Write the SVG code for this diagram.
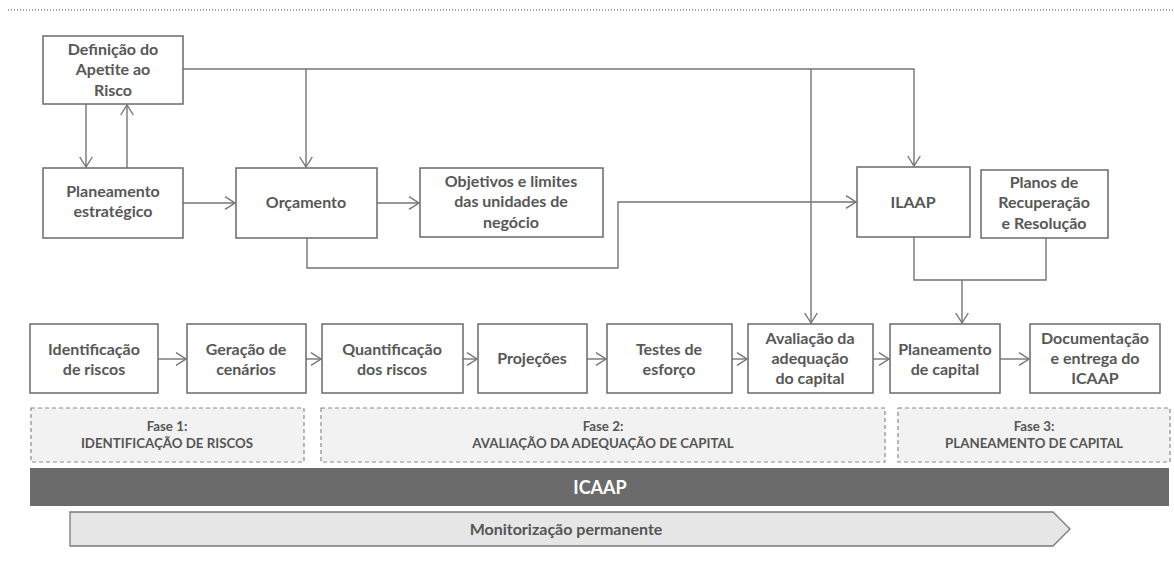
<svg xmlns="http://www.w3.org/2000/svg" width="1174" height="573" viewBox="0 0 1174 573">
<style>
.bx{fill:#ffffff;stroke:#6a6a6a;stroke-width:1.5}
.ph{fill:#f2f2f2;stroke:#8a8a8a;stroke-width:1.2;stroke-dasharray:4 3}
.t{font-family:Lato,"Liberation Sans",sans-serif;font-weight:700;font-size:16px;fill:#575757;text-anchor:middle}
.p{font-family:Lato,"Liberation Sans",sans-serif;font-weight:700;font-size:13.3px;fill:#555555;text-anchor:middle}
.c{fill:none;stroke:#747474;stroke-width:1.4}
</style>
<defs>
<marker id="ah" markerUnits="userSpaceOnUse" markerWidth="13" markerHeight="14" viewBox="0 0 11 14" refX="10" refY="7" orient="auto">
<path d="M0,0.7 L10,7 L0,13.3" fill="none" stroke="#747474" stroke-width="1.4"/>
</marker>
</defs>
<rect width="1174" height="573" fill="#ffffff"/>
<line x1="8" y1="10" x2="1174" y2="10" stroke="#8a8a8a" stroke-width="1.5" stroke-dasharray="1 2"/>

<g id="connectors">
<path class="c" d="M86,104 V167" marker-end="url(#ah)"/>
<path class="c" d="M127,168 V105" marker-end="url(#ah)"/>
<path class="c" d="M164,203 H235" marker-end="url(#ah)"/>
<path class="c" d="M183,69 H914 V166" marker-end="url(#ah)"/>
<path class="c" d="M306,69 V167" marker-end="url(#ah)"/>
<path class="c" d="M811,69 V323" marker-end="url(#ah)"/>
<path class="c" d="M377,203 H419" marker-end="url(#ah)"/>
<path class="c" d="M307,238 V268 H618 V202 H856" marker-end="url(#ah)"/>
<path class="c" d="M914,237 V280 H1046 V238"/>
<path class="c" d="M962,280 V323" marker-end="url(#ah)"/>
<path class="c" d="M158,359 H186" marker-end="url(#ah)"/>
<path class="c" d="M306,359 H321" marker-end="url(#ah)"/>
<path class="c" d="M463,359 H477" marker-end="url(#ah)"/>
<path class="c" d="M587,359 H606" marker-end="url(#ah)"/>
<path class="c" d="M732,359 H747" marker-end="url(#ah)"/>
<path class="c" d="M873,359 H889" marker-end="url(#ah)"/>
<path class="c" d="M1000,359 H1029" marker-end="url(#ah)"/>
</g>

<g id="definicao"><rect class="bx" x="43" y="36" width="140" height="68"/>
<text class="t" x="113" y="55">Definição do</text><text class="t" x="113" y="75">Apetite ao</text><text class="t" x="113" y="96">Risco</text></g>
<g id="planeamento-estrategico"><rect class="bx" x="43" y="168" width="140" height="70"/>
<text class="t" x="113" y="197">Planeamento</text><text class="t" x="113" y="217">estratégico</text></g>
<g id="orcamento"><rect class="bx" x="236" y="168" width="141" height="70"/>
<text class="t" x="306" y="208">Orçamento</text></g>
<g id="objetivos"><rect class="bx" x="420" y="168" width="183" height="69"/>
<text class="t" x="511" y="187">Objetivos e limites</text><text class="t" x="511" y="207">das unidades de</text><text class="t" x="511" y="228">negócio</text></g>
<g id="ilaap"><rect class="bx" x="857" y="167" width="113" height="70"/>
<text class="t" x="913" y="208">ILAAP</text></g>
<g id="planos"><rect class="bx" x="981" y="170" width="127" height="68"/>
<text class="t" x="1044" y="188">Planos de</text><text class="t" x="1044" y="208">Recuperação</text><text class="t" x="1044" y="229">e Resolução</text></g>

<g id="identificacao"><rect class="bx" x="30" y="324" width="128" height="69"/>
<text class="t" x="94" y="355">Identificação</text><text class="t" x="94" y="375">de riscos</text></g>
<g id="geracao"><rect class="bx" x="187" y="324" width="119" height="69"/>
<text class="t" x="246" y="355">Geração de</text><text class="t" x="246" y="375">cenários</text></g>
<g id="quantificacao"><rect class="bx" x="322" y="324" width="141" height="69"/>
<text class="t" x="392" y="355">Quantificação</text><text class="t" x="392" y="375">dos riscos</text></g>
<g id="projecoes"><rect class="bx" x="478" y="324" width="109" height="69"/>
<text class="t" x="532" y="364">Projeções</text></g>
<g id="testes"><rect class="bx" x="607" y="324" width="125" height="69"/>
<text class="t" x="669" y="355">Testes de</text><text class="t" x="669" y="375">esforço</text></g>
<g id="avaliacao"><rect class="bx" x="748" y="324" width="125" height="69"/>
<text class="t" x="810" y="344">Avaliação da</text><text class="t" x="810" y="364">adequação</text><text class="t" x="810" y="384">do capital</text></g>
<g id="planeamento-capital"><rect class="bx" x="890" y="324" width="110" height="69"/>
<text class="t" x="945" y="355">Planeamento</text><text class="t" x="945" y="375">de capital</text></g>
<g id="documentacao"><rect class="bx" x="1030" y="324" width="130" height="69"/>
<text class="t" x="1095" y="344">Documentação</text><text class="t" x="1095" y="364">e entrega do</text><text class="t" x="1095" y="384">ICAAP</text></g>

<g id="fase1"><rect class="ph" x="31" y="408" width="273" height="54"/>
<text class="p" x="167" y="431">Fase 1:</text><text class="p" x="167" y="448">IDENTIFICAÇÃO DE RISCOS</text></g>
<g id="fase2"><rect class="ph" x="321" y="408" width="564" height="54"/>
<text class="p" x="603" y="431">Fase 2:</text><text class="p" x="603" y="448">AVALIAÇÃO DA ADEQUAÇÃO DE CAPITAL</text></g>
<g id="fase3"><rect class="ph" x="898" y="408" width="272" height="54"/>
<text class="p" x="1034" y="431">Fase 3:</text><text class="p" x="1034" y="448">PLANEAMENTO DE CAPITAL</text></g>

<g id="icaap"><rect x="30" y="468" width="1139" height="38" fill="#6b6b6b"/>
<text x="600" y="494" font-family="Lato,'Liberation Sans',sans-serif" font-weight="700" font-size="18" fill="#ffffff" text-anchor="middle">ICAAP</text></g>
<g id="monitorizacao"><path d="M70,512 H1053 L1070,529 L1053,546 H70 Z" fill="#e6e6e6" stroke="#7a7a7a" stroke-width="1.3"/>
<text x="566" y="535" font-family="Lato,'Liberation Sans',sans-serif" font-weight="700" font-size="16" fill="#555555" text-anchor="middle">Monitorização permanente</text></g>
</svg>
